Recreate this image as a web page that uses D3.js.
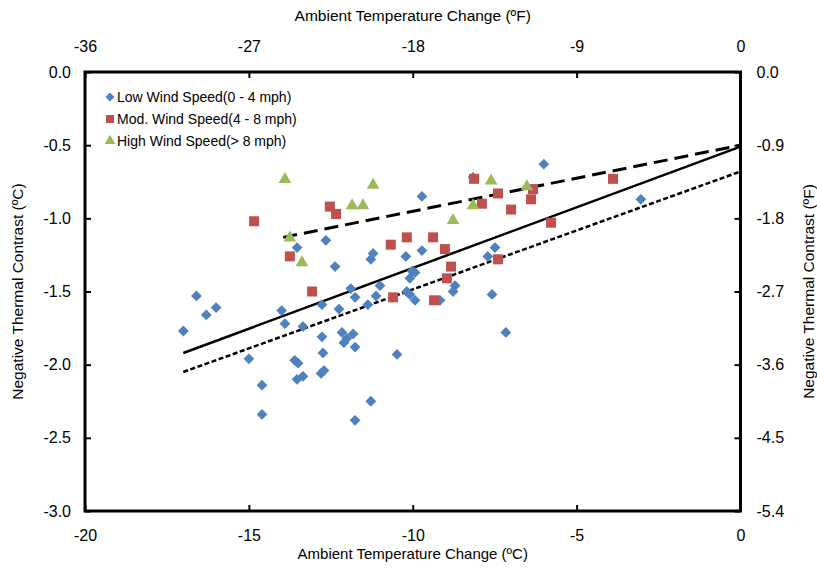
<!DOCTYPE html>
<html>
<head>
<meta charset="utf-8">
<script src="https://cdn.jsdelivr.net/npm/d3@7"></script>
<style>
  body { margin: 0; background: #fff; }
  svg text { font-family: "Liberation Sans", Arial, sans-serif; fill: #000; }
</style>
</head>
<body>
<script>
// series values: [x in degC, y in degC]
const lowWind = [
  [-17.0, -1.77], [-16.6, -1.53], [-16.3, -1.66], [-16.0, -1.61], [-15.0, -1.96],
  [-14.6, -2.14], [-14.6, -2.34], [-14.0, -1.63], [-13.9, -1.72], [-13.53, -1.20],
  [-13.35, -1.74], [-13.6, -1.97], [-13.5, -1.99], [-13.53, -2.10], [-13.35, -2.08],
  [-12.77, -1.59], [-12.77, -1.81], [-12.74, -1.92], [-12.8, -2.06], [-12.71, -2.04],
  [-12.65, -1.15], [-12.37, -1.33], [-12.25, -1.62], [-12.16, -1.78], [-11.82, -1.79],
  [-12.1, -1.85], [-12.01, -1.82], [-11.89, -1.48], [-11.76, -1.54], [-11.76, -1.88],
  [-11.76, -2.38], [-11.28, -2.25], [-11.37, -1.59], [-11.12, -1.53], [-11.0, -1.46],
  [-11.21, -1.24], [-11.28, -1.28], [-10.48, -1.93], [-10.18, -1.50], [-10.09, -1.52],
  [-10.21, -1.26], [-10.02, -1.36], [-9.93, -1.37], [-10.09, -1.41], [-9.93, -1.56],
  [-9.72, -0.85], [-9.72, -1.22], [-9.17, -1.56], [-8.77, -1.50], [-8.71, -1.46],
  [-8.16, -0.72], [-7.71, -1.26], [-7.49, -1.20], [-7.4, -1.28], [-7.58, -1.52],
  [-7.16, -1.78], [-6.0, -0.63], [-3.04, -0.87]
];
const modWind = [
  [-14.84, -1.02], [-13.75, -1.26], [-13.07, -1.50], [-12.53, -0.92], [-12.34, -0.97],
  [-10.67, -1.18], [-10.6, -1.54], [-10.18, -1.13], [-9.38, -1.13], [-9.35, -1.56],
  [-9.02, -1.21], [-8.83, -1.33], [-8.96, -1.41], [-8.13, -0.73], [-7.89, -0.90],
  [-7.4, -0.83], [-7.4, -1.28], [-7.0, -0.94], [-6.39, -0.87], [-6.33, -0.80],
  [-5.78, -1.03], [-3.89, -0.73]
];
const highWind = [
  [-13.9, -0.74], [-13.75, -1.14], [-13.38, -1.31], [-11.21, -0.78], [-11.85, -0.92],
  [-11.52, -0.92], [-8.77, -1.02], [-8.16, -0.92], [-7.61, -0.75], [-6.52, -0.79]
];
// trend lines, end points
const solidTrend = [[-17, -1.92], [0, -0.51]];
const dottedTrend = [[-17, -2.05], [0, -0.68]];
const dashedTrend = [[-13.95, -1.13], [0, -0.50]];

const seriesNames = ["Low Wind Speed(0 - 4 mph)", "Mod. Wind Speed(4 - 8 mph)", "High Wind Speed(> 8 mph)"];
const xTicksC = [-20, -15, -10, -5, 0];
const xTicksF = [-36, -27, -18, -9, 0];
const yTicksC = [0, -0.5, -1, -1.5, -2, -2.5, -3];
const yTicksF = [0, -0.9, -1.8, -2.7, -3.6, -4.5, -5.4];

const W = 817, H = 572;
const pLeft = 85, pRight = 740.5, pTop = 72, pBottom = 511;

// plain hyphen for negatives, like the original
const loc = d3.formatLocale({ decimal: ".", thousands: ",", grouping: [3], currency: ["", ""], minus: "-" });
const fmtInt = loc.format("d");
const fmt1 = loc.format(".1f");

const svg = d3.select("body").append("svg")
  .attr("width", W)
  .attr("height", H);

const x = d3.scaleLinear().domain([-20, 0]).range([pLeft, pRight]);
const xF = d3.scaleLinear().domain([-36, 0]).range([pLeft, pRight]);
const y = d3.scaleLinear().domain([-3, 0]).range([pBottom, pTop]);
const yF = d3.scaleLinear().domain([-5.4, 0]).range([pBottom, pTop]);

// axes with inward ticks
function styleAxis(g) {
  g.select(".domain").remove();
  g.selectAll(".tick line").attr("stroke", "#000").attr("stroke-width", 2);
  g.selectAll(".tick text").style("font-size", "16px");
}

svg.append("g")
  .attr("transform", `translate(0,${pBottom})`)
  .call(d3.axisBottom(x).tickValues(xTicksC).tickSizeInner(-6).tickPadding(19).tickFormat(fmtInt))
  .call(styleAxis);

svg.append("g")
  .attr("transform", `translate(0,${pTop})`)
  .call(d3.axisTop(xF).tickValues(xTicksF).tickSizeInner(-6).tickPadding(20).tickFormat(fmtInt))
  .call(styleAxis);

svg.append("g")
  .attr("transform", `translate(${pLeft},0)`)
  .call(d3.axisLeft(y).tickValues(yTicksC).tickSizeInner(-6).tickPadding(14).tickFormat(fmt1))
  .call(styleAxis);

svg.append("g")
  .attr("transform", `translate(${pRight},0)`)
  .call(d3.axisRight(yF).tickValues(yTicksF).tickSizeInner(-6).tickPadding(16).tickFormat(fmt1))
  .call(styleAxis);

// frame
svg.append("rect")
  .attr("x", pLeft).attr("y", pTop)
  .attr("width", pRight - pLeft).attr("height", pBottom - pTop)
  .attr("fill", "none").attr("stroke", "#000").attr("stroke-width", 3);

// axis titles
svg.append("text").attr("x", (pLeft + pRight) / 2).attr("y", 559)
  .attr("text-anchor", "middle").style("font-size", "15px")
  .text("Ambient Temperature Change (ºC)");
svg.append("text").attr("x", (pLeft + pRight) / 2).attr("y", 21)
  .attr("text-anchor", "middle").style("font-size", "15.5px")
  .text("Ambient Temperature Change (ºF)");
svg.append("text")
  .attr("transform", `translate(23,${(pTop + pBottom) / 2}) rotate(-90)`)
  .attr("text-anchor", "middle").style("font-size", "15.5px")
  .text("Negative Thermal Contrast (ºC)");
svg.append("text")
  .attr("transform", `translate(814,${(pTop + pBottom) / 2}) rotate(-90)`)
  .attr("text-anchor", "middle").style("font-size", "15.5px")
  .text("Negative Thermal Contrast (ºF)");

// trend lines
const line = d3.line().x(d => x(d[0])).y(d => y(d[1]));
svg.append("path").datum(solidTrend).attr("d", line)
  .attr("fill", "none").attr("stroke", "#000").attr("stroke-width", 2.5);
svg.append("path").datum(dottedTrend).attr("d", line)
  .attr("fill", "none").attr("stroke", "#000").attr("stroke-width", 2.5)
  .attr("stroke-dasharray", "5,2.5");
svg.append("path").datum(dashedTrend).attr("d", line)
  .attr("fill", "none").attr("stroke", "#000").attr("stroke-width", 3)
  .attr("stroke-dasharray", "14,7");

// markers
const diamond = d3.symbol().type(d3.symbolSquare).size(58);
const square = d3.symbol().type(d3.symbolSquare).size(100);
const triangle = d3.symbol().type(d3.symbolTriangle).size(70);

svg.append("g").selectAll("path")
  .data(lowWind)
  .enter()
    .append("path")
    .attr("d", diamond)
    .attr("transform", d => `translate(${x(d[0])},${y(d[1])}) rotate(45)`)
    .attr("fill", "#4F81BD");

svg.append("g").selectAll("path")
  .data(modWind)
  .enter()
    .append("path")
    .attr("d", square)
    .attr("transform", d => `translate(${x(d[0])},${y(d[1])})`)
    .attr("fill", "#C0504D");

svg.append("g").selectAll("path")
  .data(highWind)
  .enter()
    .append("path")
    .attr("d", triangle)
    .attr("transform", d => `translate(${x(d[0])},${y(d[1]) - 1})`)
    .attr("fill", "#9BBB59");

// legend
const legend = svg.append("g");
const legendShapes = [
  { sym: d3.symbol().type(d3.symbolSquare).size(40), rot: 45, color: "#4F81BD" },
  { sym: d3.symbol().type(d3.symbolSquare).size(64), rot: 0, color: "#C0504D" },
  { sym: d3.symbol().type(d3.symbolTriangle).size(50), rot: 0, color: "#9BBB59" }
];
seriesNames.forEach((name, i) => {
  const ly = 97 + i * 22;
  legend.append("path")
    .attr("d", legendShapes[i].sym)
    .attr("transform", `translate(110,${ly}) rotate(${legendShapes[i].rot})`)
    .attr("fill", legendShapes[i].color);
  legend.append("text")
    .attr("x", 117).attr("y", ly + 5)
    .style("font-size", "14px")
    .text(name);
});
</script>
</body>
</html>
